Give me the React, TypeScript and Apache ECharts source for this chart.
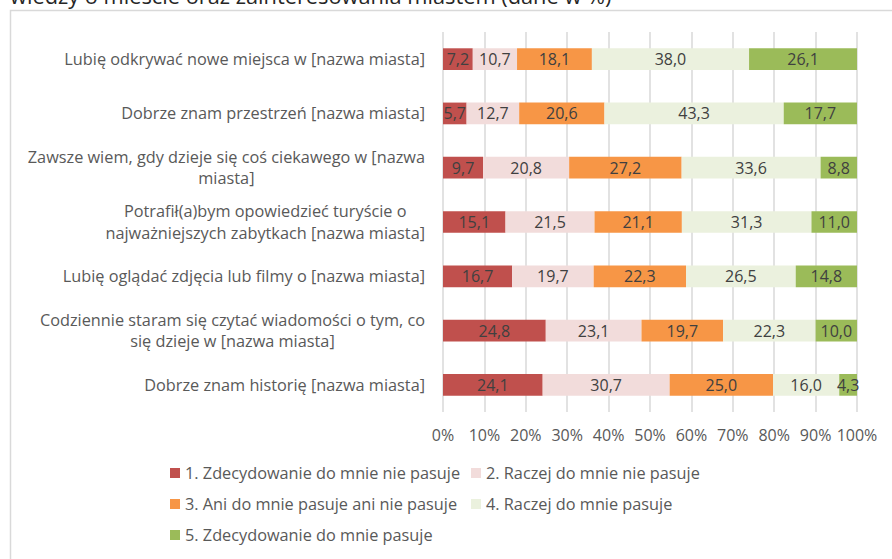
import React, { useEffect, useRef } from "react";
import * as echarts from "echarts";

const categories: string[] = [
  "Lubię odkrywać nowe miejsca w [nazwa miasta]",
  "Dobrze znam przestrzeń [nazwa miasta]",
  "Zawsze wiem, gdy dzieje się coś ciekawego w [nazwa\nmiasta]",
  "Potrafił(a)bym opowiedzieć turyście o\nnajważniejszych zabytkach [nazwa miasta]",
  "Lubię oglądać zdjęcia lub filmy o [nazwa miasta]",
  "Codziennie staram się czytać wiadomości o tym, co\nsię dzieje w [nazwa miasta]",
  "Dobrze znam historię [nazwa miasta]",
];

const seriesNames: string[] = [
  "1. Zdecydowanie do mnie nie pasuje",
  "2. Raczej do mnie nie pasuje",
  "3. Ani do mnie pasuje ani nie pasuje",
  "4. Raczej do mnie pasuje",
  "5. Zdecydowanie do mnie pasuje",
];

const s1: number[] = [7.2, 5.7, 9.7, 15.1, 16.7, 24.8, 24.1];
const s2: number[] = [10.7, 12.7, 20.8, 21.5, 19.7, 23.1, 30.7];
const s3: number[] = [18.1, 20.6, 27.2, 21.1, 22.3, 19.7, 25.0];
const s4: number[] = [38.0, 43.3, 33.6, 31.3, 26.5, 22.3, 16.0];
const s5: number[] = [26.1, 17.7, 8.8, 11.0, 14.8, 10.0, 4.3];

const xTicks = { min: 0, max: 100, interval: 10 };

const titleText = "wiedzy o mieście oraz zainteresowania miastem (dane w %)";

const colors = ["#C0504D", "#F2DCDB", "#F79646", "#EBF1DE", "#9BBB59"];

const FONT = "'Open Sans', 'Noto Sans', sans-serif";

export default function App() {
  const ref = useRef<HTMLDivElement>(null);
  useEffect(() => {
    if (!ref.current) return;
    const chart = echarts.init(ref.current, undefined, { renderer: "svg" });
    const all = [s1, s2, s3, s4, s5];
    const totals = categories.map((_, i) => all.reduce((a, s) => a + s[i], 0));
    const series = all.map((arr, si) => ({
      name: seriesNames[si],
      type: "bar",
      stack: "total",
      barCategoryGap: "60%",
      itemStyle: { color: colors[si] },
      label: {
        show: true,
        position: "inside",
        color: "#404040",
        fontSize: 16,
        fontFamily: FONT,
        formatter: (p: any) => arr[p.dataIndex].toFixed(1).replace(".", ","),
      },
      emphasis: { disabled: true },
      data: arr.map((v, i) => (v / totals[i]) * 100),
    }));
    const legendText = { color: "#595959", fontSize: 16.3, fontFamily: FONT };
    chart.setOption({
      animation: false,
      textStyle: { fontFamily: FONT },
      grid: { left: 443, right: 35, top: 32, bottom: 147, containLabel: false },
      xAxis: {
        type: "value",
        min: xTicks.min,
        max: xTicks.max,
        interval: xTicks.interval,
        axisLine: { show: false },
        axisTick: { show: false },
        splitLine: { show: true, lineStyle: { color: "#D9D9D9", width: 1.5 } },
        axisLabel: {
          formatter: "{value}%",
          color: "#595959",
          fontSize: 16,
          fontFamily: FONT,
          margin: 15,
        },
      },
      yAxis: {
        type: "category",
        inverse: true,
        data: categories,
        axisLine: { show: false },
        axisTick: { show: false },
        axisLabel: {
          color: "#595959",
          fontSize: 16.3,
          fontFamily: FONT,
          margin: 18,
          lineHeight: 21.5,
          formatter: (v: string) =>
            v
              .split("\n")
              .map((l) => "{c|" + l + "}")
              .join("\n"),
          rich: {
            c: { align: "center", color: "#595959", fontSize: 16.3, fontFamily: FONT, lineHeight: 21.5 },
          },
        },
      },
      legend: [
        {
          data: [seriesNames[0], seriesNames[2], seriesNames[4]],
          orient: "vertical",
          left: 165,
          top: 460,
          itemWidth: 10,
          itemHeight: 10,
          itemGap: 15,
          icon: "rect",
          textStyle: legendText,
          selectedMode: false,
        },
        {
          data: [seriesNames[1], seriesNames[3]],
          orient: "vertical",
          left: 466,
          top: 460,
          itemWidth: 10,
          itemHeight: 10,
          itemGap: 15,
          icon: "rect",
          textStyle: legendText,
          selectedMode: false,
        },
      ],
      graphic: [
        {
          type: "rect",
          shape: { x: 10.5, y: 10.5, width: 900, height: 600 },
          style: { fill: "none", stroke: "#D9D9D9", lineWidth: 1.5 },
          silent: true,
        },
        {
          type: "text",
          x: 10,
          y: 6,
          style: {
            text: titleText,
            fontSize: 21.8,
            fontFamily: FONT,
            fill: "#262626",
            verticalAlign: "bottom",
          },
          silent: true,
        },
      ],
      series,
    });
    return () => chart.dispose();
  }, []);
  return (
    <div
      ref={ref}
      style={{ position: "fixed", left: 0, top: 0, width: 892, height: 559, background: "#fff" }}
    />
  );
}
